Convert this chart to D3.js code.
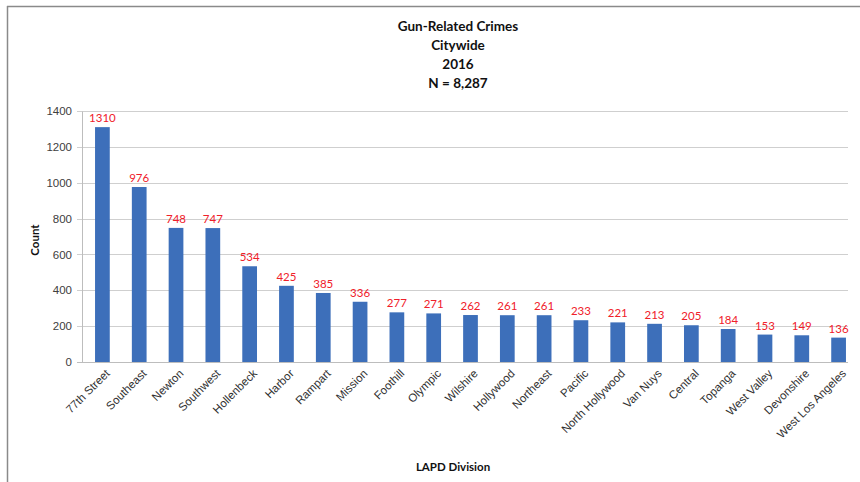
<!DOCTYPE html>
<html>
<head>
<meta charset="utf-8">
<script src="https://cdn.jsdelivr.net/npm/d3@7"></script>
<style>
  html, body { margin: 0; padding: 0; background: #ffffff; }
  svg { display: block; font-family: "Lato", "Open Sans", "Liberation Sans", sans-serif; }
</style>
</head>
<body>
<svg id="chart" width="860" height="482"></svg>
<script>
// Gun-related crimes by LAPD division, 2016
const divisions = ["77th Street", "Southeast", "Newton", "Southwest", "Hollenbeck", "Harbor",
  "Rampart", "Mission", "Foothill", "Olympic", "Wilshire", "Hollywood", "Northeast", "Pacific",
  "North Hollywood", "Van Nuys", "Central", "Topanga", "West Valley", "Devonshire", "West Los Angeles"];
const counts = [1310, 976, 748, 747, 534, 425, 385, 336, 277, 271, 262, 261, 261, 233, 221, 213, 205, 184, 153, 149, 136];
const yTicks = [0, 200, 400, 600, 800, 1000, 1200, 1400];
const titleLines = ["Gun-Related Crimes", "Citywide", "2016", "N = 8,287"];

const svg = d3.select("#chart");
const W = 860, H = 482;
const plot = { left: 82, right: 855, top: 111, bottom: 362 };

// Frame (top and left edges of the chart box)
svg.append("line").attr("x1", 7).attr("x2", W).attr("y1", 6.5).attr("y2", 6.5)
  .attr("stroke", "#8a8a8a").attr("stroke-width", 1.5);
svg.append("line").attr("x1", 7.5).attr("x2", 7.5).attr("y1", 6).attr("y2", H)
  .attr("stroke", "#8a8a8a").attr("stroke-width", 1.5);

const x = d3.scaleBand().domain(divisions).range([plot.left + 2, plot.right + 2]).paddingInner(0.6).paddingOuter(0.3);
const y = d3.scaleLinear().domain([0, 1400]).range([plot.bottom, plot.top]);

// Gridlines
svg.append("g").selectAll("line").data(yTicks).join("line")
  .attr("x1", plot.left - 5).attr("x2", 848)
  .attr("y1", d => Math.round(y(d)) + 0.5).attr("y2", d => Math.round(y(d)) + 0.5)
  .attr("stroke", d => d === 0 ? "#bdbdbd" : "#cfcfcf").attr("stroke-width", 1);

// Y axis
const yAxis = d3.axisLeft(y).tickValues(yTicks).tickFormat(d3.format("d")).tickSize(0).tickPadding(10);
const yg = svg.append("g").attr("transform", `translate(${plot.left},0)`).call(yAxis);
yg.select(".domain").attr("stroke", "#bdbdbd");
yg.selectAll("text").attr("font-size", 11.5).attr("fill", "#404040");

// Bars
svg.append("g").selectAll("rect").data(divisions).join("rect")
  .attr("x", d => x(d))
  .attr("width", x.bandwidth())
  .attr("y", (d, i) => y(counts[i]))
  .attr("height", (d, i) => y(0) - y(counts[i]))
  .attr("fill", "#3d6fba");

// Value labels
svg.append("g").selectAll("text").data(divisions).join("text")
  .attr("x", d => x(d) + x.bandwidth() / 2)
  .attr("y", (d, i) => y(counts[i]) - 5)
  .attr("text-anchor", "middle")
  .attr("font-size", 11.5)
  .attr("fill", "#f0202a")
  .text((d, i) => counts[i]);

// X axis labels
const xAxis = d3.axisBottom(x).tickSize(0).tickPadding(0);
const xg = svg.append("g").attr("transform", `translate(0,${plot.bottom})`).call(xAxis);
xg.select(".domain").remove();
xg.selectAll("text")
  .attr("font-size", 11.5)
  .attr("fill", "#303030")
  .attr("text-anchor", "end")
  .attr("dy", null)
  .attr("transform", "translate(6,10) rotate(-45)")
  .attr("dominant-baseline", "middle");

// Axis titles
svg.append("text").attr("x", 453).attr("y", 471).attr("text-anchor", "middle")
  .attr("font-size", 11.5).attr("font-weight", "bold").attr("fill", "#111").text("LAPD Division");
svg.append("text").attr("transform", "translate(39,240) rotate(-90)").attr("text-anchor", "middle")
  .attr("font-size", 11.5).attr("font-weight", "bold").attr("fill", "#111").text("Count");

// Title
svg.append("g").selectAll("text").data(titleLines).join("text")
  .attr("x", 458).attr("y", (d, i) => 31 + i * 19)
  .attr("text-anchor", "middle")
  .attr("font-size", 13.5).attr("font-weight", "bold").attr("fill", "#111")
  .text(d => d);
</script>
</body>
</html>
